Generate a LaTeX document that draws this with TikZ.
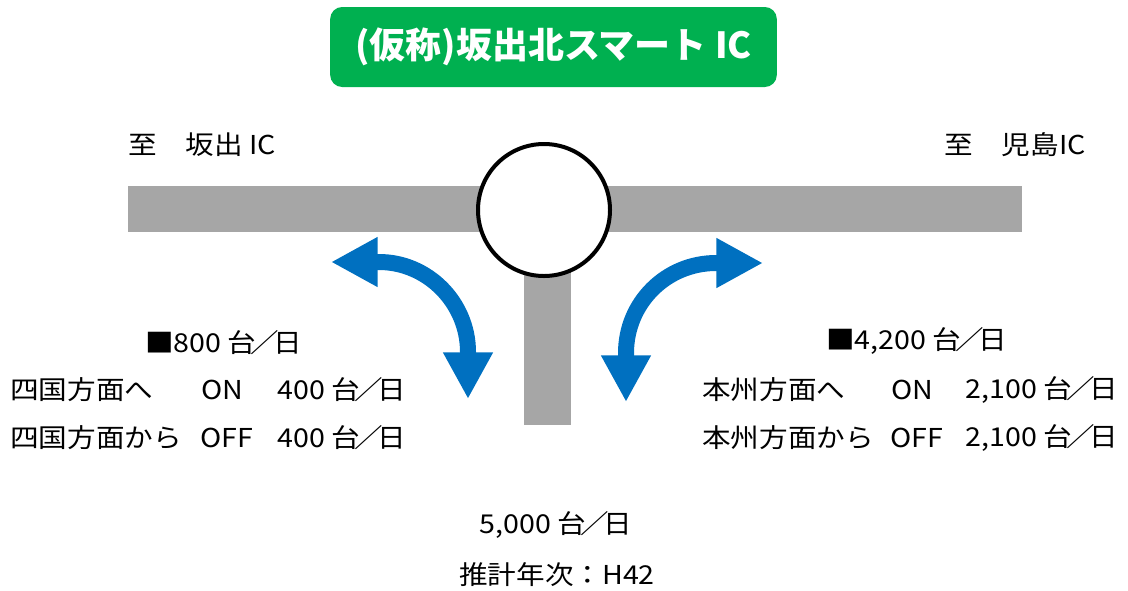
\documentclass[tikz,border=0pt]{standalone}
\usepackage{fontspec}
\setmainfont{Noto Sans CJK JP}
\usetikzlibrary{arrows.meta}
\definecolor{titlegreen}{HTML}{00B050}
\definecolor{arrowblue}{HTML}{0070C0}
\definecolor{roadgray}{HTML}{A6A6A6}
\newcommand\nslash{\hspace{-0.22em}／\hspace{-0.22em}}
\begin{document}
\begin{tikzpicture}[x=0.75pt,y=-0.75pt,
  lbl/.style={font=\fontsize{19.5}{23}\selectfont\addfontfeature{FakeStretch=1.1}, inner sep=0pt, text=black},
  road/.style={fill=roadgray, draw=none},
  flow/.style={draw=arrowblue, line width=12pt,
    arrows={Triangle[length=35pt,width=35pt,fill=arrowblue]-Triangle[length=35pt,width=35pt,fill=arrowblue]}},
  titlebox/.style={fill=titlegreen, draw=none, rounded corners=9pt,
    minimum width=335pt, minimum height=60pt, inner sep=0pt,
    text=white, font=\fontsize{27}{30}\selectfont\bfseries}]
\useasboundingbox (0,0) rectangle (1128,590);

% title
\node[titlebox] (title) at (553.5,47) {(仮称)坂出北スマート IC};

% roads
\fill[road] (128,186) rectangle (1022,232);
\fill[road] (524,232) rectangle (571,425);
\node[circle, draw=black, line width=3pt, fill=white, minimum size=99pt, inner sep=0pt] (ic) at (544,210) {};

% direction labels
\node[lbl, anchor=west] (toS) at (128,145) {至　坂出 IC};
\node[lbl, anchor=east] (toK) at (1086,145) {至　児島IC};

% left arrow
\coordinate (la) at (331,262);
\coordinate (lb) at (379,262);
\coordinate (lc) at (468,352);
\coordinate (ld) at (468,399);
\draw[flow] (la) -- (lb) .. controls (428,262) and (468,303) .. (lc) -- (ld);

% right arrow
\coordinate (ra) at (763,263);
\coordinate (rb) at (716,263);
\coordinate (rc) at (626,353);
\coordinate (rd) at (626,402);
\draw[flow] (ra) -- (rb) .. controls (666,263) and (626,303) .. (rc) -- (rd);

% left traffic
\node[lbl, anchor=west] (lsum) at (145,343) {■800 台\nslash 日};
\node[lbl, anchor=west] (lon) at (10,390) {四国方面へ};
\node[lbl, anchor=west] (lonl) at (201,390) {ON};
\node[lbl, anchor=east] (lonv) at (406,390) {400 台\nslash 日};
\node[lbl, anchor=west] (loff) at (10,438) {四国方面から};
\node[lbl, anchor=west] (loffl) at (200,438) {OFF};
\node[lbl, anchor=east] (loffv) at (406,438) {400 台\nslash 日};

% right traffic
\node[lbl, anchor=west] (rsum) at (826,341) {■4,200 台\nslash 日};
\node[lbl, anchor=west] (ron) at (702,390) {本州方面へ};
\node[lbl, anchor=west] (ronl) at (891,390) {ON};
\node[lbl, anchor=east] (ronv) at (1118,390) {2,100 台\nslash 日};
\node[lbl, anchor=west] (roff) at (702,438) {本州方面から};
\node[lbl, anchor=west] (roffl) at (890,438) {OFF};
\node[lbl, anchor=east] (roffv) at (1118,438) {2,100 台\nslash 日};

% bottom
\node[lbl] (total) at (556,525) {5,000 台\nslash 日};
\node[lbl] (year) at (557,575) {推計年次：H42};
\end{tikzpicture}
\end{document}
